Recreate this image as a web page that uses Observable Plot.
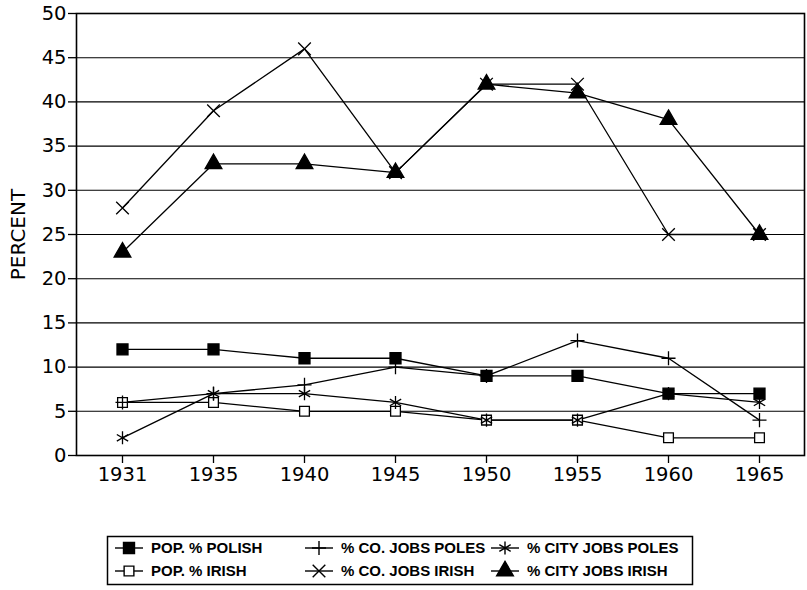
<!DOCTYPE html>
<html>
<head>
<meta charset="utf-8">
<script src="https://cdn.jsdelivr.net/npm/d3@7"></script>
<script src="https://cdn.jsdelivr.net/npm/@observablehq/plot@0.6"></script>
<style>
  html, body { margin: 0; padding: 0; background: white; }
  #wrap { position: relative; width: 807px; height: 590px; font-family: "DejaVu Sans", sans-serif; }
  #legend { position: absolute; left: 0; top: 510px; }
</style>
</head>
<body>
<div id="wrap"></div>
<script>
// ---- data ----
const years = ["1931", "1935", "1940", "1945", "1950", "1955", "1960", "1965"];
const popPolish     = [12, 12, 11, 11, 9, 9, 7, 7];
const popIrish      = [6, 6, 5, 5, 4, 4, 2, 2];
const coJobsPoles   = [6, 7, 8, 10, 9, 13, 11, 4];
const coJobsIrish   = [28, 39, 46, 32, 42, 42, 25, 25];
const cityJobsPoles = [2, 7, 7, 6, 4, 4, 7, 6];
const cityJobsIrish = [23, 33, 33, 32, 42, 41, 38, 25];
const seriesNames = ["POP. % POLISH", "POP. % IRISH", "% CO. JOBS POLES", "% CO. JOBS IRISH", "% CITY JOBS POLES", "% CITY JOBS IRISH"];
const yTicks = [0, 5, 10, 15, 20, 25, 30, 35, 40, 45, 50];
const yLabel = "PERCENT";

// ---- styles ----
const seriesValues = [popPolish, popIrish, coJobsPoles, coJobsIrish, cityJobsPoles, cityJobsIrish];
const styles = [
  {symbol: "square",   fill: "black", stroke: "black", r: 6.2},
  {symbol: "square",   fill: "white", stroke: "black", r: 5.5},
  {symbol: "plus",     fill: "none",  stroke: "black", r: 4.6},
  {symbol: "times",    fill: "none",  stroke: "black", r: 5.8},
  {symbol: "asterisk", fill: "none",  stroke: "black", r: 6.2},
  {symbol: "triangle", fill: "black", stroke: "black", r: 6.2}
];

const rows = seriesNames.flatMap((name, s) =>
  years.map((yr, i) => ({year: yr, value: seriesValues[s][i], series: name})));

const axisFont = "DejaVu Sans, sans-serif";
const legendFont = "Liberation Sans, Arial, sans-serif";

const marks = [
  Plot.ruleY(yTicks.filter(d => d > 0 && d < 50), {stroke: "black", strokeWidth: 1.1}),
  Plot.frame({stroke: "black", strokeWidth: 1.6}),
  Plot.axisX({tickSize: 8, tickPadding: 4, fontSize: 19.5, strokeWidth: 1.3}),
  Plot.axisY({ticks: yTicks, tickSize: 8, tickPadding: 2, fontSize: 19.5, strokeWidth: 1.3, tickFormat: d => String(d)}),
  Plot.text([yLabel], {text: d => d, frameAnchor: "left", textAnchor: "middle", rotate: -90, dx: -58, fontSize: 20}),
  Plot.line(rows, {x: "year", y: "value", z: "series", stroke: "black", strokeWidth: 1.3})
];
seriesNames.forEach((name, s) => {
  const st = styles[s];
  marks.push(Plot.dot(rows.filter(d => d.series === name), {
    x: "year", y: "value", symbol: () => st.symbol, r: st.r,
    fill: st.fill, stroke: st.stroke, strokeWidth: 1.3
  }));
});

const chart = Plot.plot({
  width: 807, height: 510,
  marginLeft: 76, marginRight: 3, marginTop: 13, marginBottom: 55,
  style: {fontFamily: axisFont, fontSize: "19.5px", background: "white", color: "black", overflow: "visible"},
  x: {type: "point", domain: years, padding: 0.5, label: null},
  y: {domain: [0, 50], label: null},
  symbol: {type: "identity"},
  marks
});
document.getElementById("wrap").appendChild(chart);

// ---- legend ----
const lg = d3.create("svg").attr("id", "legend").attr("width", 807).attr("height", 80)
  .style("font-family", legendFont);
lg.append("rect").attr("x", 107.5).attr("y", 26.5).attr("width", 585).attr("height", 48)
  .attr("fill", "white").attr("stroke", "black").attr("stroke-width", 1.5);
const colX = [115, 305, 491];
const rowY = [38, 61];
const symMap = {square: d3.symbolSquare, plus: d3.symbolPlus, times: d3.symbolTimes, asterisk: d3.symbolAsterisk, triangle: d3.symbolTriangle};
seriesNames.forEach((name, s) => {
  const col = Math.floor(s / 2), row = s % 2;
  const x0 = colX[col], y0 = rowY[row];
  const st = styles[s];
  const g = lg.append("g");
  g.append("line").attr("x1", x0).attr("x2", x0 + 28).attr("y1", y0).attr("y2", y0)
    .attr("stroke", "black").attr("stroke-width", 1.4);
  g.append("path").attr("transform", `translate(${x0 + 14},${y0})`)
    .attr("d", d3.symbol(symMap[st.symbol], Math.PI * st.r * st.r)())
    .attr("fill", st.fill).attr("stroke", st.stroke).attr("stroke-width", 1.4);
  g.append("text").attr("x", x0 + 36).attr("y", y0).attr("dy", "0.36em")
    .attr("font-size", 15).attr("font-weight", "bold").attr("fill", "black").text(name);
});
document.getElementById("wrap").appendChild(lg.node());
</script>
</body>
</html>
